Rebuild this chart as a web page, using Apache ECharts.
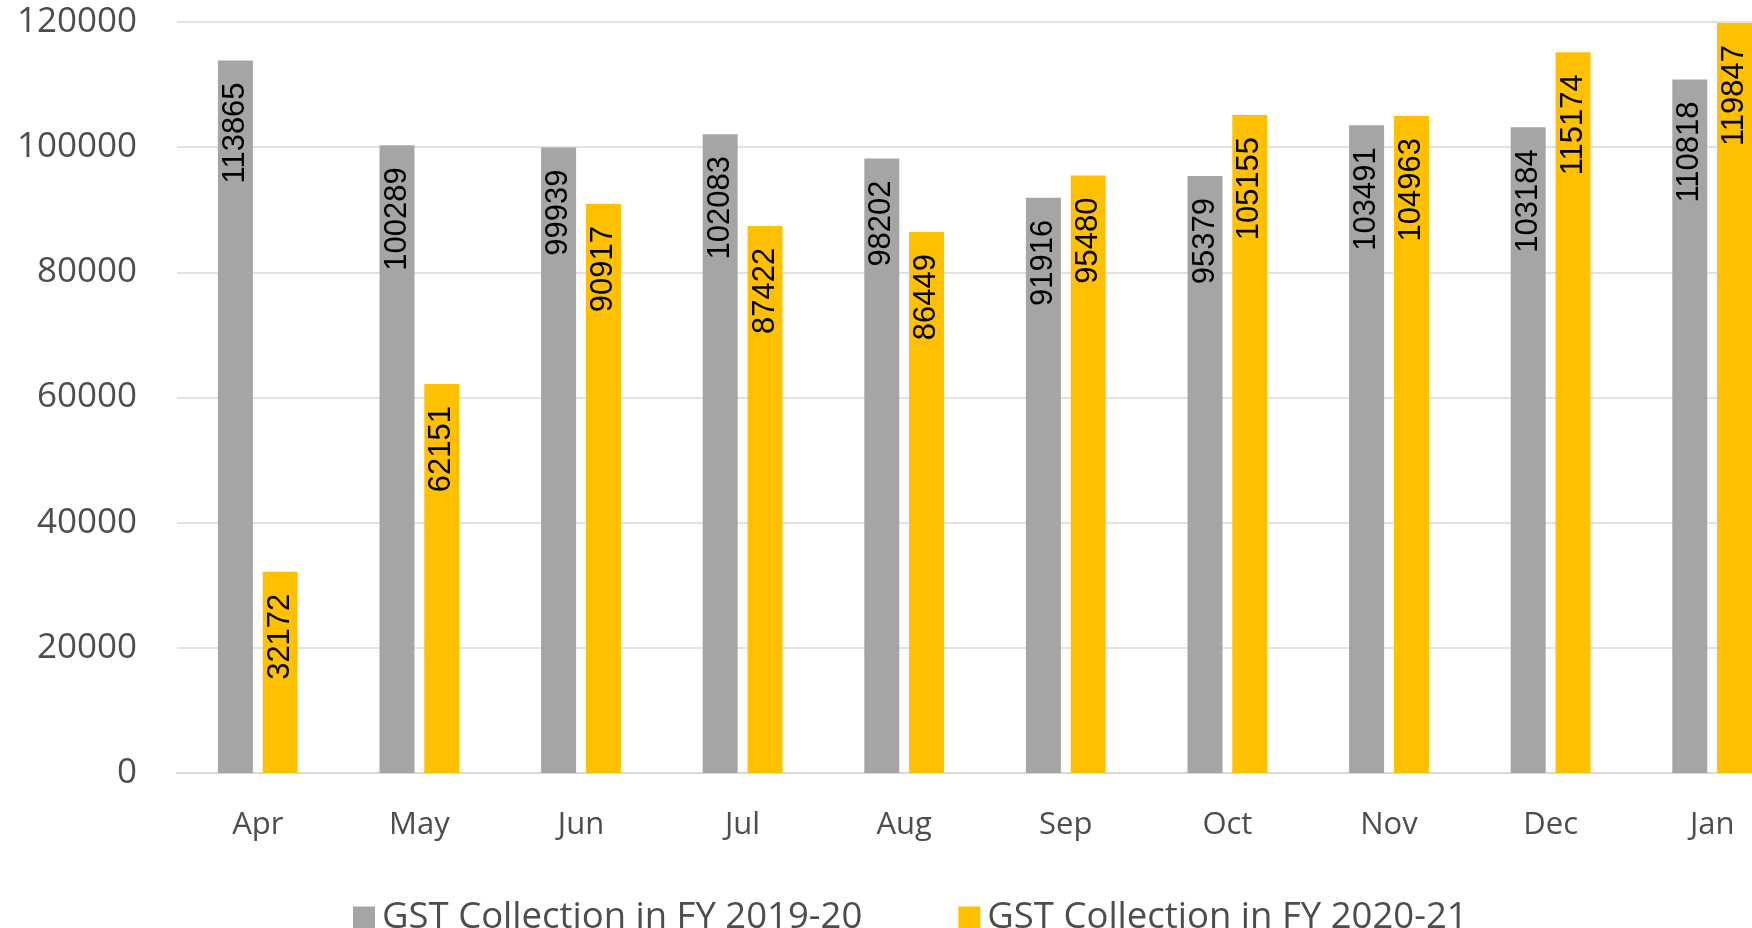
<!DOCTYPE html>
<html>
<head>
<meta charset="utf-8">
<script src="https://cdn.jsdelivr.net/npm/echarts@6/dist/echarts.min.js"></script>
<style>
  html, body { margin: 0; padding: 0; background: #ffffff; overflow: hidden; }
  /* plot runs past the right edge of the window, so the last bar is cut */
  #chart { width: 1800px; height: 928px; }
</style>
</head>
<body>
<div id="chart"></div>
<script>
// Monthly GST collection (Rs crore), April to January
const months = ['Apr', 'May', 'Jun', 'Jul', 'Aug', 'Sep', 'Oct', 'Nov', 'Dec', 'Jan'];
const gst2019_20 = [113865, 100289, 99939, 102083, 98202, 91916, 95379, 103491, 103184, 110818];
const gst2020_21 = [32172, 62151, 90917, 87422, 86449, 95480, 105155, 104963, 115174, 119847];
const seriesNames = ['GST Collection in FY 2019-20', 'GST Collection in FY 2020-21'];
const yTicks = { min: 0, max: 120000, interval: 20000 };

const axisText = '#4d4d4d';
const barLabel = {
  show: true,
  position: 'insideTop',
  rotate: 90,
  align: 'right',
  verticalAlign: 'middle',
  distance: 22,
  color: '#000000',
  fontFamily: 'Liberation Sans',
  fontSize: 31
};

const chart = echarts.init(document.getElementById('chart'), null, { renderer: 'canvas' });
chart.setOption({
  backgroundColor: '#ffffff',
  animation: false,
  grid: { left: 177, top: 22, width: 1616, height: 751 },
  legend: {
    data: seriesNames,
    left: 348,
    top: 894,
    icon: 'rect',
    itemWidth: 22,
    itemHeight: 22,
    itemGap: 96,
    textStyle: { color: axisText, fontFamily: 'Open Sans', fontSize: 36.5, padding: [0, 0, 0, 2] }
  },
  xAxis: {
    type: 'category',
    data: months,
    axisLine: { show: true, lineStyle: { color: '#d9d9d9', width: 2 } },
    axisTick: { show: false },
    axisLabel: { color: axisText, fontFamily: 'Open Sans', fontSize: 31, margin: 37 }
  },
  yAxis: {
    type: 'value',
    min: yTicks.min,
    max: yTicks.max,
    interval: yTicks.interval,
    axisLine: { show: false },
    axisTick: { show: false },
    splitLine: { lineStyle: { color: '#e2e2e2', width: 2 } },
    axisLabel: {
      color: axisText,
      fontFamily: 'Open Sans',
      fontSize: 35,
      margin: 40,
      formatter: v => String(v)
    }
  },
  series: [
    {
      name: seriesNames[0],
      type: 'bar',
      data: gst2019_20,
      barWidth: 35,
      barGap: '28%',
      itemStyle: { color: '#a5a5a5' },
      label: barLabel
    },
    {
      name: seriesNames[1],
      type: 'bar',
      data: gst2020_21,
      barWidth: 35,
      itemStyle: { color: '#ffc000' },
      label: barLabel
    }
  ]
});
</script>
</body>
</html>
